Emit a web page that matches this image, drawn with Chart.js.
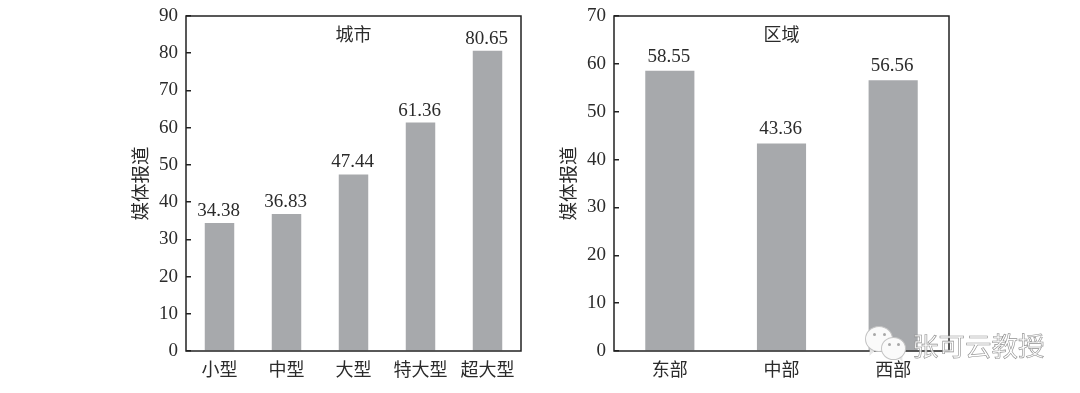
<!DOCTYPE html>
<html>
<head>
<meta charset="utf-8">
<style>
  body { margin: 0; background: #fff; }
  #wrap { position: relative; width: 1080px; height: 393px; overflow: hidden; }
  canvas { position: absolute; top: 0; }
  .mark { position: absolute; color: rgba(255,255,255,0.8); -webkit-text-stroke: 0.6px #8f8f8f; font: 26.5px "Noto Sans CJK SC"; white-space: nowrap; }
  .bubble { position: absolute; background: #fafafa; border: 1px solid #c4c4c4; border-radius: 50%; box-sizing: border-box; }
  .dot { position: absolute; width: 3px; height: 3px; border-radius: 50%; background: #a8a8a8; }
  .tail { position: absolute; width: 0; height: 0; border-left: 3px solid transparent; border-right: 3px solid transparent; border-top: 7px solid #e6e6e6; }
</style>
</head>
<body>
<div id="wrap">
  <canvas id="cityChart" width="440" height="393" style="left:100px"></canvas>
  <canvas id="regionChart" width="440" height="393" style="left:528px"></canvas>
  <div class="mark" style="left:912px;top:325px">张可云教授</div>
  <div class="tail" style="left:868px;top:349px;transform:rotate(25deg)"></div>
  <div class="bubble" style="left:865px;top:326px;width:28px;height:26px"></div>
  <div class="dot" style="left:873px;top:333px"></div>
  <div class="dot" style="left:883px;top:333px"></div>
  <div class="tail" style="left:898px;top:355px;transform:rotate(-25deg)"></div>
  <div class="bubble" style="left:881px;top:337px;width:25px;height:23px"></div>
  <div class="dot" style="left:888px;top:343px"></div>
  <div class="dot" style="left:897px;top:343px"></div>
</div>
<script src="https://cdn.jsdelivr.net/npm/chart.js@4"></script>
<script>
const cityLabels = ['小型', '中型', '大型', '特大型', '超大型'];
const cityValues = [34.38, 36.83, 47.44, 61.36, 80.65];
const regionLabels = ['东部', '中部', '西部'];
const regionValues = [58.55, 43.36, 56.56];
const axisTitle = '媒体报道';

const FONT = '"Liberation Serif", "Noto Sans CJK SC", serif';
const INK = '#2b2b2b';
const BAR = '#a7a9ac';

// Value labels over the bars, panel name inside the top of the frame
const annotate = {
    id: 'annotate',
    afterDatasetsDraw(chart, args, opts) {
        const ctx = chart.ctx;
        const area = chart.chartArea;
        ctx.save();
        ctx.fillStyle = INK;
        ctx.textAlign = 'center';
        ctx.textBaseline = 'alphabetic';
        ctx.font = '19px ' + FONT;
        chart.getDatasetMeta(0).data.forEach((bar, i) => {
            ctx.fillText(chart.data.datasets[0].data[i].toFixed(2), bar.x - 1, bar.y - opts.gap);
        });
        ctx.font = '18px ' + FONT;
        ctx.fillText(opts.name, (area.left + area.right) / 2, area.top + 25);
        // frame on top of the bars
        ctx.strokeStyle = '#222';
        ctx.lineWidth = 1.5;
        ctx.strokeRect(area.left, area.top, area.right - area.left, area.bottom - area.top);
        ctx.restore();
    }
};

function drawPanel(id, labels, values, yMax, name, gap) {
    new Chart(document.getElementById(id), {
        type: 'bar',
        data: {
            labels: labels,
            datasets: [{
                data: values,
                backgroundColor: BAR,
                barPercentage: 0.44,
                categoryPercentage: 1
            }]
        },
        plugins: [annotate],
        options: {
            responsive: false,
            animation: false,
            layout: { padding: { left: 31, right: 19, top: 16, bottom: 0 } },
            plugins: {
                legend: { display: false },
                tooltip: { enabled: false },
                annotate: { name: name, gap: gap }
            },
            scales: {
                x: {
                    grid: { display: false },
                    border: { display: false },
                    ticks: { color: INK, font: { family: FONT, size: 18 }, padding: 1, maxRotation: 0, autoSkip: false },
                    afterFit(scale) { scale.height = 42; }
                },
                y: {
                    min: 0,
                    max: yMax,
                    // short ticks pointing into the plot
                    grid: { drawOnChartArea: false, tickLength: -5, color: '#222', lineWidth: 1.5 },
                    border: { display: false },
                    ticks: { stepSize: 10, color: INK, font: { family: FONT, size: 19 }, padding: 13 },
                    title: { display: true, text: axisTitle, color: INK, font: { family: FONT, size: 18.5 }, padding: 0 },
                    afterFit(scale) {
                        scale.width = 55;
                        // tick padding would otherwise push the plot down
                        scale.paddingTop = 0;
                        scale.paddingBottom = 0;
                    }
                }
            }
        }
    });
}

drawPanel('cityChart', cityLabels, cityValues, 90, '城市', 7);
drawPanel('regionChart', regionLabels, regionValues, 70, '区域', 9);
</script>
</body>
</html>
